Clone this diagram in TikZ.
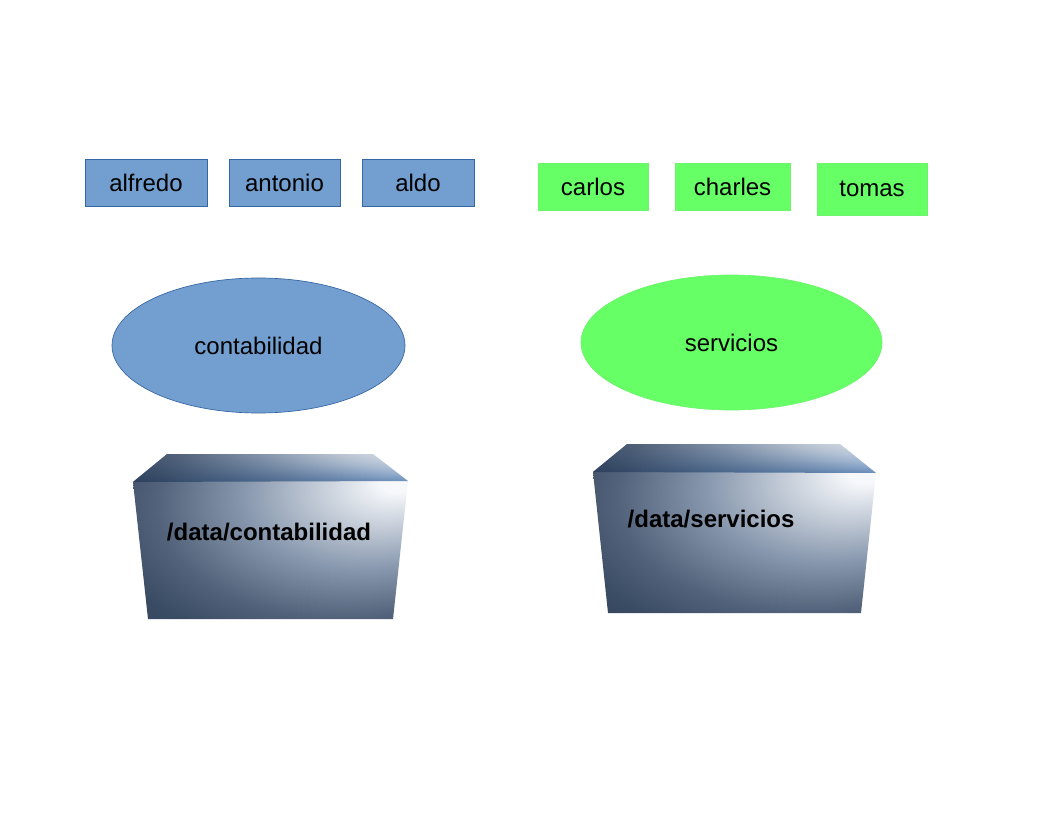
\documentclass[tikz,border=0pt]{standalone}
\usepackage{fontspec}
\setmainfont{Liberation Sans}
\usetikzlibrary{shapes.geometric,fadings}
\definecolor{bfill}{HTML}{729FCF}
\definecolor{bline}{HTML}{3465A4}
\definecolor{gfill}{HTML}{66FF66}
\definecolor{gline}{HTML}{6CF46C}
\definecolor{dark}{HTML}{2C3C52}
\definecolor{dark2}{HTML}{3A4B64}
\definecolor{dark3}{HTML}{52627A}
\definecolor{mid}{HTML}{8797AD}
\definecolor{light}{HTML}{F6F8FB}
\definecolor{topdark}{HTML}{2A3E5A}
\definecolor{topblue}{HTML}{5A82B4}
\pgfdeclareradialshading{boxshade}{\pgfpoint{24bp}{17bp}}{%
  color(0bp)=(light); color(3bp)=(light); color(22bp)=(mid);
  color(34bp)=(dark3); color(42bp)=(dark2); color(55bp)=(dark); color(75bp)=(dark)}
\tikzset{
  person/.style={rectangle, inner sep=0pt, minimum height=35.25pt, font=\fontsize{18pt}{21pt}\selectfont},
  bperson/.style={person, fill=bfill, draw=bline, line width=0.5pt},
  gperson/.style={person, fill=gfill, draw=gline, line width=0.5pt},
  group/.style={ellipse, inner sep=0pt, minimum height=101.25pt, font=\fontsize{18pt}{21pt}\selectfont},
  store/.style={shading=boxshade},
  storetop/.style={left color=topdark, right color=topblue, path fading=north, opacity=0.9},
  storetext/.style={font=\fontsize{18pt}{21pt}\selectfont\bfseries}
}
\begin{document}
\begin{tikzpicture}[x=0.75pt,y=-0.75pt]
\useasboundingbox (0,0) rectangle (1056,816);
\fill[white] (0,0) rectangle (1056,816);
% users
\node[bperson, minimum width=91.5pt] (alfredo) at (146,182.5) {alfredo};
\node[bperson, minimum width=83.25pt] (antonio) at (284.5,182.5) {antonio};
\node[bperson, minimum width=84pt] (aldo) at (418,182.5) {aldo};
\node[gperson, minimum width=82.5pt] (carlos) at (593,186.5) {carlos};
\node[gperson, minimum width=86.25pt] (charles) at (732.5,186.5) {charles};
\node[gperson, minimum width=82.5pt, minimum height=39pt] (tomas) at (872,189) {tomas};
% groups
\node[group, fill=bfill, draw=bline, line width=0.5pt, minimum width=219.75pt] (contabilidad) at (258.5,345.5) {contabilidad};
\node[group, fill=gfill, draw=gline, line width=0.5pt, minimum width=225.75pt] (servicios) at (731.5,342.5) {servicios};
% storage boxes
\shade[store] (167,454) -- (373,454) -- (408,481) -- (393,619) -- (148,619) -- (133,482) -- cycle;
\shade[storetop] (167,454) -- (373,454) -- (408,481) -- (133,482) -- cycle;
\node[storetext] (dcont) at (269,532) {/data/contabilidad};
\shade[store] (627,444) -- (840,444) -- (876,473) -- (861,613) -- (608,613) -- (593,472) -- cycle;
\shade[storetop] (627,444) -- (840,444) -- (876,473) -- (593,472) -- cycle;
\node[storetext, anchor=west] (dserv) at (623,519) {/data/servicios};
\end{tikzpicture}
\end{document}
